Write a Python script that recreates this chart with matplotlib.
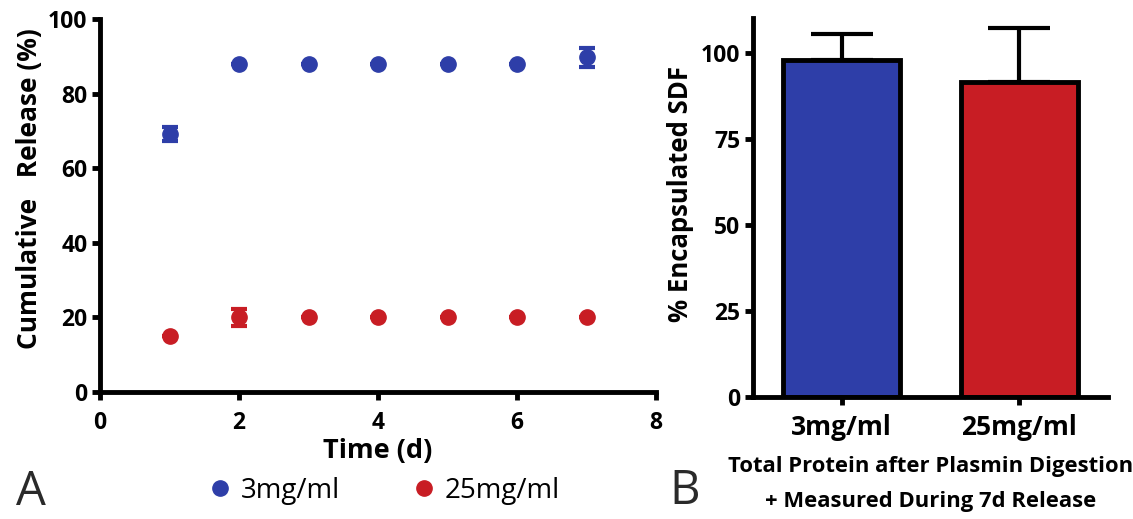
import numpy as np
import matplotlib
matplotlib.use("Agg")
import matplotlib.pyplot as plt
from matplotlib.lines import Line2D

plt.rcParams['font.family'] = ['Open Sans', 'DejaVu Sans']

# panel A: cumulative release
days = [1, 2, 3, 4, 5, 6, 7]
release_3 = [69.2, 88.0, 88.0, 88.0, 88.0, 88.0, 89.8]
err_3 = [2.0, 0.0, 0.0, 0.0, 0.0, 0.0, 2.5]
release_25 = [15.0, 20.0, 20.0, 20.0, 20.0, 20.0, 20.0]
err_25 = [0.0, 2.2, 0.0, 0.0, 0.0, 0.0, 0.0]

# panel B: total encapsulated
groups = ['3mg/ml', '25mg/ml']
encaps = [97.8, 91.6]
encaps_err = [7.7, 15.4]

blue = '#2e3ea8'
red = '#c81d24'

fig = plt.figure(figsize=(11.33, 5.19), dpi=100)
axA = fig.add_axes([0.0883, 0.2447, 0.4907, 0.7183])
axB = fig.add_axes([0.6646, 0.235, 0.3134, 0.73])

lw = 3.5
for ax in (axA, axB):
    for s in ['top', 'right']:
        ax.spines[s].set_visible(False)
    for s in ['left', 'bottom']:
        ax.spines[s].set_linewidth(lw)
    ax.tick_params(width=lw, length=6, labelsize=16.5, pad=3)

axA.errorbar(days, release_3, yerr=err_3, fmt='o', color=blue, ms=11,
             elinewidth=2.5, capsize=6, capthick=3)
axA.errorbar(days, release_25, yerr=err_25, fmt='o', color=red, ms=11,
             elinewidth=2.5, capsize=6, capthick=3)
axA.set_xlim(0, 8)
axA.set_ylim(0, 100)
axA.set_xticks([0, 2, 4, 6, 8])
axA.set_yticks([0, 20, 40, 60, 80, 100])
axA.tick_params(axis='x', pad=8)
axA.set_xlabel('Time (d)', fontsize=19.5, fontweight='bold', labelpad=2)
axA.set_ylabel('Cumulative   Release (%)', fontsize=19, fontweight='bold')
axA.yaxis.set_label_coords(-0.102, 0.545)
for lab in axA.get_xticklabels() + axA.get_yticklabels():
    lab.set_fontweight('bold')
for ln in axA.get_lines():
    ln.set_clip_on(False)

x = np.arange(len(groups))
axB.bar(x, encaps, width=0.66, color=[blue, red], edgecolor='black', linewidth=3.5, zorder=2)
axB.errorbar(x, encaps, yerr=[[0, 0], encaps_err], fmt='none', ecolor='black',
             elinewidth=3, capsize=22, capthick=3, zorder=1)
axB.set_xlim(-0.5, 1.5)
axB.set_ylim(0, 110)
axB.set_yticks([0, 25, 50, 75, 100])
axB.set_xticks(x)
axB.set_xticklabels(groups, fontsize=19)
axB.tick_params(axis='x', pad=6)
axB.set_ylabel('% Encapsulated SDF', fontsize=18.5, fontweight='bold')
axB.yaxis.set_label_coords(-0.165, 0.535)
axB.set_xlabel('Total Protein after Plasmin Digestion\n+ Measured During 7d Release',
               fontsize=15.8, fontweight='bold', labelpad=11, linespacing=1.85)
for lab in axB.get_xticklabels() + axB.get_yticklabels():
    lab.set_fontweight('bold')

handles = [Line2D([], [], marker='o', ls='none', color=blue, ms=11, label='3mg/ml'),
           Line2D([], [], marker='o', ls='none', color=red, ms=11, label='25mg/ml')]
fig.legend(handles=handles, loc='center', bbox_to_anchor=(0.338, 0.054), ncol=2,
           frameon=False, fontsize=20, handletextpad=0.25, columnspacing=2.5,
           handlelength=1.0)

fig.text(0.014, 0.052, 'A', fontsize=34, va='center', ha='left', color='#2a2a2a')
fig.text(0.591, 0.054, 'B', fontsize=34, va='center', ha='left', color='#2a2a2a')

fig.savefig('out.png', dpi=100)
